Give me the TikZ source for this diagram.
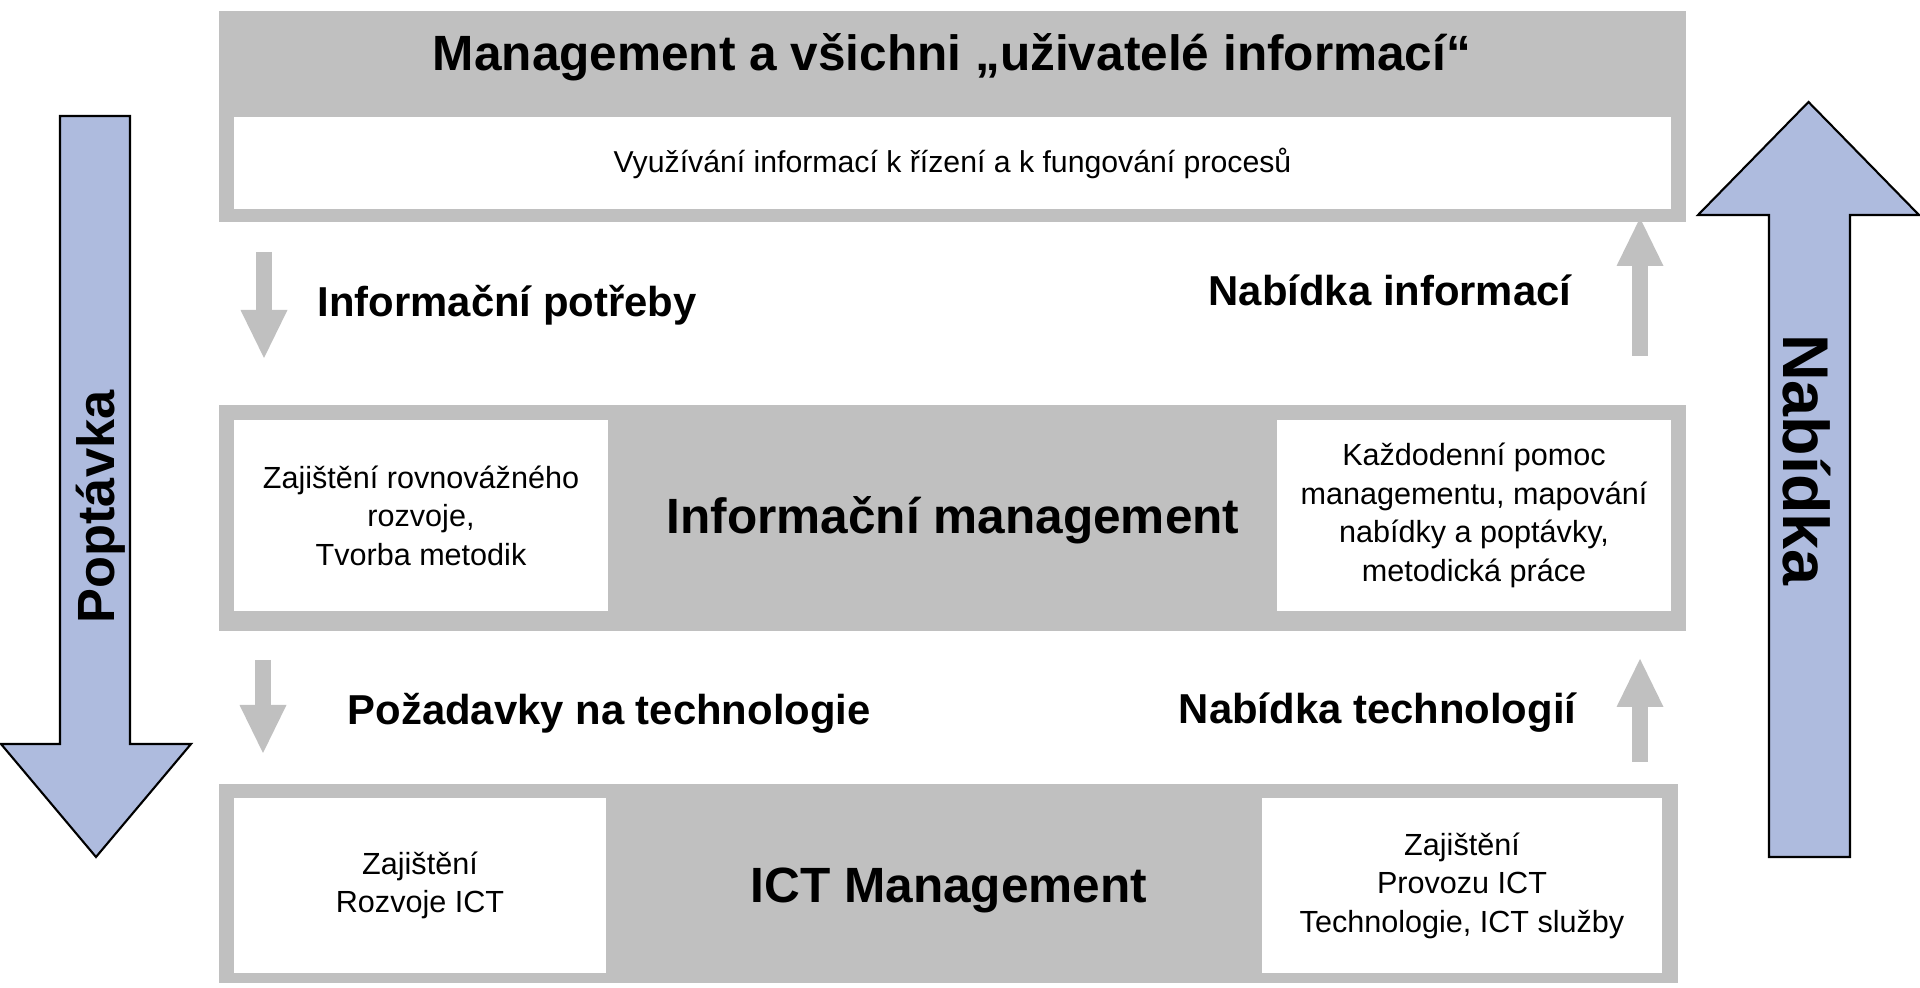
\documentclass[tikz,border=0pt]{standalone}
\usepackage{fontspec}
\setmainfont{Liberation Sans}
\usepackage{tikz}
\usetikzlibrary{arrows.meta, positioning}
\definecolor{bandgrey}{RGB}{192,192,192}
\definecolor{flowblue}{RGB}{174,187,222}

\begin{document}
\begin{tikzpicture}[
    band/.style={fill=bandgrey, inner sep=0pt},
    whitebox/.style={fill=white, inner sep=0pt, align=center, font=\fontsize{8.7}{10.95}\selectfont},
    heading/.style={font=\fontsize{14.1}{17}\selectfont\bfseries},
    flowlabel/.style={font=\fontsize{11.9}{14}\selectfont\bfseries},
    smallarrow/.style={draw=bandgrey, line width=0.16cm, -{Triangle[length=0.48cm, width=0.47cm, line width=0pt]}},
    bigarrow/.style={draw=black, fill=flowblue, line width=0.6pt, line join=miter}
  ]
  \useasboundingbox (0,0) rectangle (19.2,9.88);

  % big side arrows
  \draw[bigarrow] (0.60,8.72) -- (1.30,8.72) -- (1.30,2.44) -- (1.91,2.44) -- (0.96,1.31) -- (0.01,2.44) -- (0.60,2.44) -- cycle;
  \draw[bigarrow] (17.69,1.31) -- (18.50,1.31) -- (18.50,7.73) -- (19.19,7.73) -- (18.085,8.86) -- (16.98,7.73) -- (17.69,7.73) -- cycle;
  \node[rotate=90, font=\fontsize{14.9}{17}\selectfont\bfseries] (demand) at (1.01,4.81) {Poptávka};
  \node[rotate=-90, font=\fontsize{18.4}{21}\selectfont\bfseries] (supply) at (18.07,5.28) {Nabídka};

  % top layer
  \node[band, minimum width=14.67cm, minimum height=2.11cm] (users) at (9.525,8.715) {};
  \node[heading] (usersT) at (9.52,9.31) {Management a všichni „uživatelé informací“};
  \node[whitebox, minimum width=14.37cm, minimum height=0.92cm] (use) at (9.525,8.25) {\fontsize{8.6}{10.95}\selectfont Využívání informací k řízení a k fungování procesů};

  % middle layer
  \node[band, minimum width=14.67cm, minimum height=2.26cm] (im) at (9.525,4.70) {};
  \node[heading] (imT) at (9.53,4.68) {Informační management};
  \node[whitebox, minimum width=3.74cm, minimum height=1.91cm] (imL) at (4.21,4.725) {Zajištění rovnovážného\\rozvoje,\\Tvorba metodik};
  \node[whitebox, minimum width=3.94cm, minimum height=1.91cm] (imR) at (14.74,4.725) {Každodenní pomoc\\managementu, mapování\\nabídky a poptávky,\\metodická práce};

  % bottom layer
  \node[band, minimum width=14.59cm, minimum height=1.99cm] (ict) at (9.485,1.045) {};
  \node[heading] (ictT) at (9.49,0.98) {ICT Management};
  \node[whitebox, minimum width=3.72cm, minimum height=1.75cm] (ictL) at (4.20,1.025) {Zajištění\\Rozvoje ICT};
  \node[whitebox, minimum width=4.00cm, minimum height=1.75cm] (ictR) at (14.62,1.025) {Zajištění\\Provozu ICT\\Technologie, ICT služby};

  % flows between layers
  \coordinate (needA) at (2.64,7.36);
  \coordinate (needB) at (2.64,6.30);
  \coordinate (offerA) at (16.40,6.32);
  \coordinate (offerB) at (16.40,7.70);
  \coordinate (reqA) at (2.63,3.28);
  \coordinate (reqB) at (2.63,2.35);
  \coordinate (techA) at (16.40,2.26);
  \coordinate (techB) at (16.40,3.29);
  \draw[smallarrow] (needA) -- (needB);
  \draw[smallarrow] (offerA) -- (offerB);
  \draw[smallarrow] (reqA) -- (reqB);
  \draw[smallarrow] (techA) -- (techB);
  \node[flowlabel, anchor=west, inner sep=0pt] (needs) at (3.17,6.83) {Informační potřeby};
  \node[flowlabel, anchor=east, inner sep=0pt] (offer) at (15.72,6.98) {Nabídka informací};
  \node[flowlabel, anchor=west, inner sep=0pt] (req) at (3.47,2.75) {Požadavky na technologie};
  \node[flowlabel, anchor=east, inner sep=0pt] (tech) at (15.77,2.75) {Nabídka technologií};
\end{tikzpicture}
\end{document}
